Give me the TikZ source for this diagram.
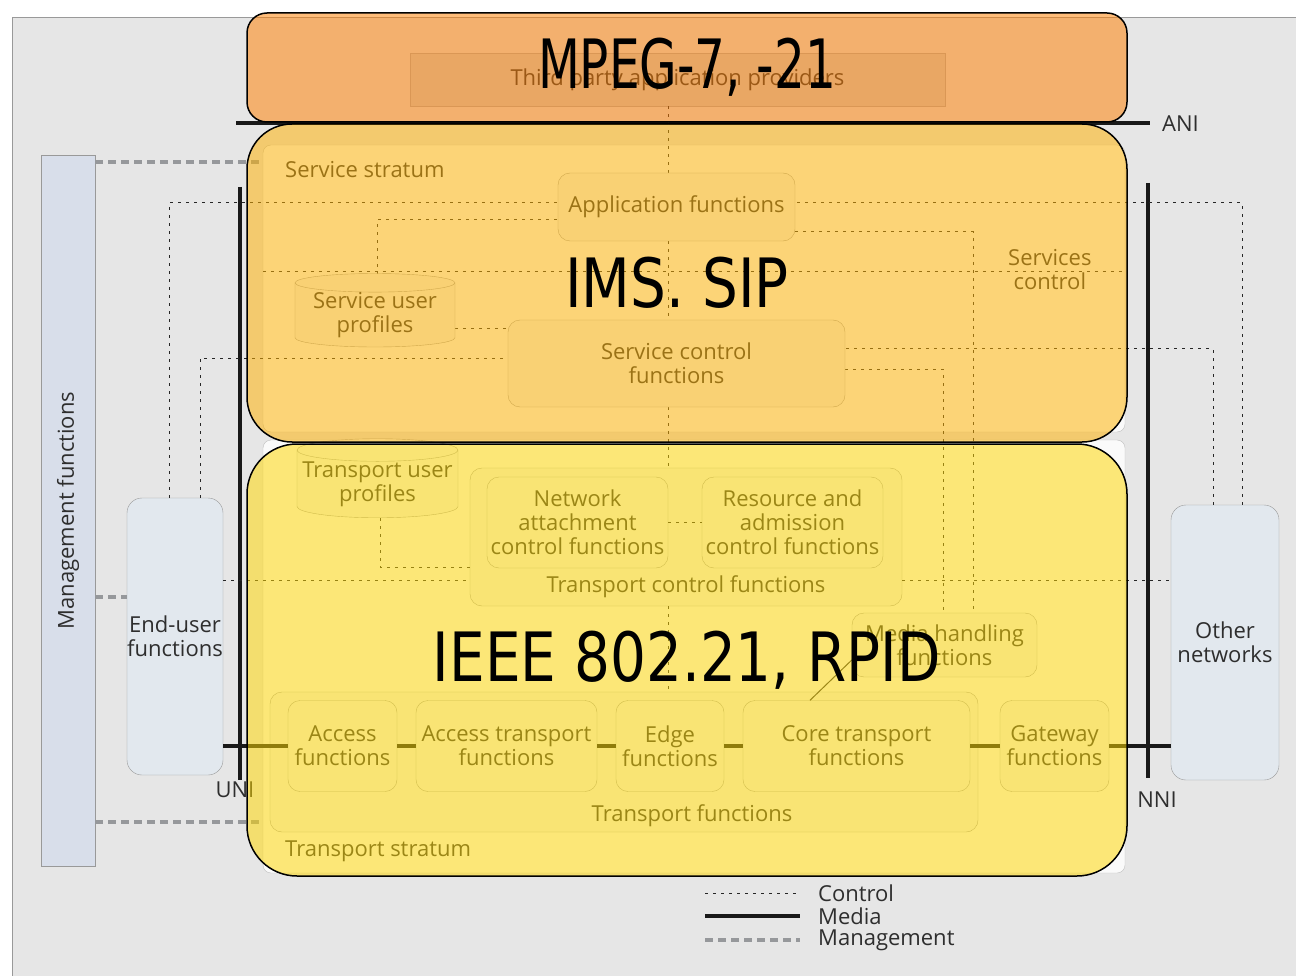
\documentclass[tikz,border=0pt]{standalone}
\usepackage{fontspec}
\setmainfont{Open Sans}
\newfontfamily\bigfont[FakeStretch=0.83]{DejaVu Sans}
\usetikzlibrary{shapes.geometric}

\definecolor{bggray}{RGB}{230,230,230}
\definecolor{mgmtblue}{RGB}{216,222,234}
\definecolor{userblue}{RGB}{226,232,238}
\definecolor{mgmtgray}{RGB}{150,152,155}
\definecolor{boxgray}{RGB}{243,243,243}
\definecolor{mpegorange}{RGB}{255,128,0}
\definecolor{imsamber}{RGB}{255,178,0}
\definecolor{ieeeyellow}{RGB}{255,215,0}

\begin{document}
\begin{tikzpicture}[x = 1pt, y = -1pt,
		txt/.style = {font = \fontsize{22}{24}\selectfont, text = black!82, align = center, inner sep = 0pt},
		sz/.style 2 args = {minimum width = #1, minimum height = #2},
		fnbox/.style = {txt, draw = gray!75, fill = boxgray, rounded corners = 12pt},
		dbase/.style = {txt, cylinder, shape border rotate = 90, shape aspect = 0.15, draw = gray!75, fill = boxgray},
		ctrl/.style = {black!85, line width = 1pt, dash pattern = on 3pt off 5pt},
		media/.style = {black!90, line width = 3.5pt},
		mgmt/.style = {mgmtgray, line width = 4pt, dash pattern = on 8pt off 5pt},
		iface/.style = {black!90, line width = 3.5pt},
		stdlayer/.style = {draw = black, line width = 1.5pt, fill opacity = 0.52, text opacity = 1,
			font = \bigfont\fontsize{68}{70}\selectfont, minimum width = 880}]
		\useasboundingbox (0,0) rectangle (1296,976);
		\fill[bggray] (12,17) rectangle (1296,976);
		\draw[gray!80] (12,976) -- (12,17) -- (1296,17);

		% side blocks
		\node[txt, draw = gray!80, fill = mgmtblue, sz = {54}{711}] (mgmt) at (68,510.5) {};
		\node[txt, rotate = 90] (mgmtlbl) at (mgmt.center) {Management functions};
		\node[txt, draw = gray!80, fill = userblue, rounded corners = 15pt, sz = {96}{277}] (enduser) at (175,636.5) {End-user\\functions};
		\node[txt, draw = gray!80, fill = userblue, rounded corners = 15pt, sz = {108}{275}] (othernet) at (1225,642.5) {Other\\networks};

		% strata
		\node[txt, draw = gray!50, fill = white!96!gray, rounded corners = 8pt, sz = {862}{287}] (svcstratum) at (694,288.5) {};
		\node[txt, anchor = west] (svclbl) at (285,170) {Service stratum};
		\node[txt, draw = gray!50, fill = white!96!gray, rounded corners = 8pt, sz = {862}{433}] (trstratum) at (694,656.5) {};
		\node[txt, anchor = west] (trlbl) at (285,851) {Transport stratum};
		\node[txt, draw = gray!60, fill = gray!35, sz = {535}{53}] (thirdparty) at (677.5,79.5) {Third party application providers};

		% interfaces
		\coordinate (uniA) at (240,187);
		\coordinate (uniB) at (240,780);
		\coordinate (nniA) at (1148,183);
		\coordinate (nniB) at (1148,778);
		\coordinate (aniA) at (236,123);
		\coordinate (aniB) at (1150,123);
		\draw[iface] (uniA) -- (uniB);
		\draw[iface] (nniA) -- (nniB);
		\draw[iface] (aniA) -- (aniB);
		\node[txt] (unilbl) at (235,790) {UNI};
		\node[txt] (nnilbl) at (1157,800) {NNI};
		\node[txt, anchor = west] (anilbl) at (1162,124) {ANI};

		% transport containers
		\node[fnbox, sz = {432}{138}] (tcf) at (686,537) {};
		\node[txt] (tcflbl) at (686,587) {Transport control functions};
		\node[fnbox, sz = {708}{140}] (tf) at (624,762) {};
		\node[txt] (tflbl) at (692,816) {Transport functions};
		\node[txt, anchor = west] (svcctl) at (1008,270) {Services\\control};

		% control
		\begin{scope}[ctrl]
			\draw (169,0 |- enduser.north) |- (558,203);
			\draw (200,0 |- enduser.north) |- (508,358);
			\draw (1242,0 |- othernet.north) |- (795,203);
			\draw (1213,0 |- othernet.north) |- (845,349);
			\draw (enduser.east |- 0,580) -- (tcf.west |- 0,580);
			\draw (tcf.east |- 0,580) -- (othernet.west |- 0,580);
			\draw (svcstratum.west |- 0,272) -- (svcstratum.east |- 0,272);
			\draw (377,283) |- (558,220);
			\draw (455,329) -- (508,329);
			\draw (795,232) -| (973,613);
			\draw (845,369) -| (943,613);
			\draw (668,0 |- thirdparty.south) -- (668,173);
			\draw (668,241) -- (668,320);
			\draw (668,407) -- (668,0 |- tcf.north);
			\draw (668,0 |- tcf.south) -- (668,0 |- tf.north);
			\draw (380,518) |- (tcf.west |- 0,567);
		\end{scope}

		% management
		\begin{scope}[mgmt]
			\draw (mgmt.east |- 0,162) -- (svcstratum.west |- 0,162);
			\draw (mgmt.east |- 0,597) -- (enduser.west |- 0,597);
			\draw (mgmt.east |- 0,822) -- (trstratum.west |- 0,822);
		\end{scope}

		% functions
		\node[fnbox, sz = {237}{68}] (appfn) at (676.5,207) {Application functions};
		\node[dbase, minimum width = 160, minimum height = 64] (supro) at (375,315) {Service user\\profiles};
		\node[fnbox, sz = {337}{87}] (scf) at (676.5,363.5) {Service control\\functions};
		\node[dbase, minimum width = 161, minimum height = 65] (tupro) at (377.5,484) {Transport user\\profiles};
		\node[fnbox, sz = {181}{91}] (nacf) at (577.5,522.5) {Network\\attachment\\control functions};
		\node[fnbox, sz = {181}{91}] (racf) at (792.5,522.5) {Resource and\\admission\\control functions};
		\node[fnbox, sz = {185}{64}] (mhf) at (944.5,645) {Media handling\\functions};
		\node[fnbox, sz = {109}{91}] (accfn) at (342.5,746) {Access\\functions};
		\node[fnbox, sz = {181}{91}] (atf) at (506.5,746) {Access transport\\functions};
		\node[fnbox, sz = {108}{91}] (edge) at (670,746) {Edge\\functions};
		\node[fnbox, sz = {227}{91}] (ctf) at (856.5,746) {Core transport\\functions};
		\node[fnbox, sz = {109}{91}] (gw) at (1054.5,746) {Gateway\\functions};
		\draw[ctrl] (nacf) -- (racf);
		\draw[black!80, line width = 1pt] ([yshift = -15pt]mhf.west) -- (810,0 |- ctf.north);

		% media
		\begin{scope}[media]
			\draw (enduser.east |- accfn) -- (accfn);
			\draw (accfn) -- (atf);
			\draw (atf) -- (edge);
			\draw (edge) -- (ctf);
			\draw (ctf) -- (gw);
			\draw (gw) -- (othernet.west |- gw);
		\end{scope}

		% legend
		\foreach \y/\sty/\lbl in {893/ctrl/Control, 916/media/Media, 940/mgmt/Management} {
			\coordinate (lg\lbl A) at (705,\y);
			\coordinate (lg\lbl B) at (800,\y);
			\draw[\sty] (lg\lbl A) -- (lg\lbl B);
			\node[txt, anchor = west] (lg\lbl) at (818,\y) {\lbl};
		}

		% standards layers
		\node[stdlayer, fill = mpegorange, rounded corners = 20pt, minimum height = 109] (mpeg) at (687,67.5) {\scalebox{0.86}[1]{MPEG-7, -21}};
		\node[stdlayer, fill = imsamber, rounded corners = 45pt, minimum height = 318] (ims) at (687,283) {\hspace*{-20pt}IMS. SIP};
		\node[stdlayer, fill = ieeeyellow, rounded corners = 50pt, minimum height = 432] (ieee) at (687,660) {IEEE 802.21, RPID};
\end{tikzpicture}
\end{document}
